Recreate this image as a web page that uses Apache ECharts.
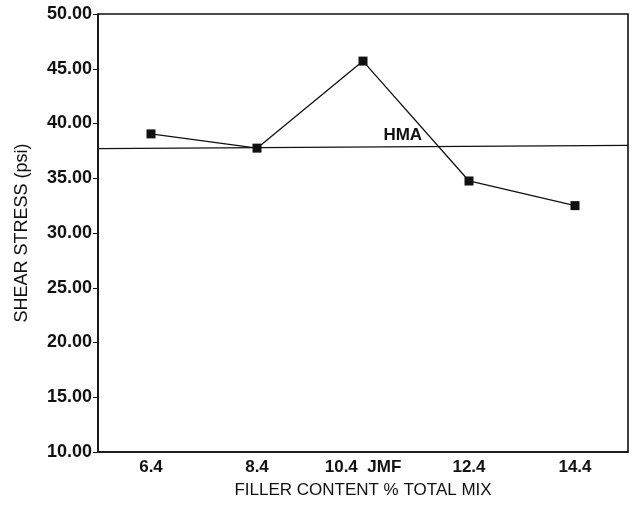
<!DOCTYPE html>
<html>
<head>
<meta charset="utf-8">
<script src="https://cdn.jsdelivr.net/npm/echarts@6/dist/echarts.min.js"></script>
<style>html,body{margin:0;padding:0;background:#fff}#c{width:632px;height:505px}</style>
</head>
<body>
<div id="c"></div>
<script>
const categories = ['6.4', '8.4', '10.4  JMF', '12.4', '14.4'];
const shearStress = [39.05, 37.75, 45.7, 34.75, 32.5];
const hmaX = [0, 1];
const hmaY = [37.7, 38.0];
const hmaLabelPos = [0.575, 38.9];
const yTicks = {min: 10, max: 50, step: 5};

const chart = echarts.init(document.getElementById('c'), null, {renderer: 'canvas'});
const font = '"Liberation Sans", Arial, Helvetica, sans-serif';
chart.setOption({
  animation: false,
  backgroundColor: '#fff',
  grid: {left: 98, right: 4, top: 14, bottom: 53, show: true, borderColor: '#111', borderWidth: 1.6, backgroundColor: 'transparent'},
  xAxis: [{
    type: 'category',
    data: categories,
    boundaryGap: true,
    name: 'FILLER CONTENT % TOTAL MIX',
    nameLocation: 'middle',
    nameGap: 30,
    nameTextStyle: {fontFamily: font, fontSize: 17, color: '#111'},
    axisLine: {lineStyle: {color: '#111', width: 1.6}},
    axisTick: {alignWithLabel: true, length: 4, lineStyle: {color: '#111'}},
    axisLabel: {fontFamily: font, fontSize: 17, fontWeight: 'bold', color: '#111', margin: 7},
    splitLine: {show: false}
  }, {
    type: 'value',
    min: 0, max: 1,
    show: false,
    position: 'bottom'
  }],
  yAxis: {
    type: 'value',
    min: yTicks.min, max: yTicks.max, interval: yTicks.step,
    name: 'SHEAR STRESS (psi)',
    nameLocation: 'middle',
    nameGap: 67,
    nameTextStyle: {fontFamily: font, fontSize: 18, color: '#111'},
    axisLine: {show: true, lineStyle: {color: '#111', width: 1.6}},
    axisTick: {show: true, length: 5, lineStyle: {color: '#111'}},
    axisLabel: {fontFamily: font, fontSize: 18, fontWeight: 'bold', color: '#111', margin: 6, formatter: v => v.toFixed(2)},
    splitLine: {show: false}
  },
  series: [{
    type: 'line',
    xAxisIndex: 0,
    data: shearStress,
    symbol: 'rect',
    symbolSize: 9,
    lineStyle: {color: '#111', width: 1.3},
    itemStyle: {color: '#111'}
  }, {
    type: 'line',
    xAxisIndex: 1,
    data: hmaX.map((x, i) => [x, hmaY[i]]),
    symbol: 'none',
    lineStyle: {color: '#111', width: 1.3},
    markPoint: {
      symbol: 'rect', symbolSize: 1,
      itemStyle: {color: 'transparent'},
      label: {show: true, formatter: 'HMA', fontFamily: font, fontSize: 17, fontWeight: 'bold', color: '#111', position: 'inside'},
      data: [{coord: hmaLabelPos}]
    }
  }]
});
</script>
</body>
</html>
